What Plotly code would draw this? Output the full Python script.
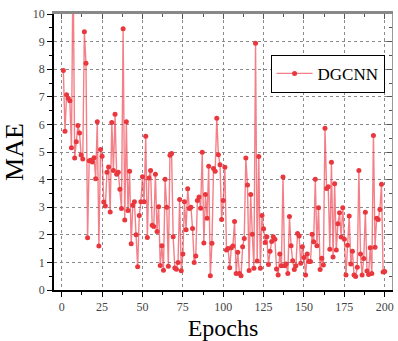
import plotly.graph_objects as go

epochs = list(range(1, 201))
mae = [
    7.95, 5.75, 7.07, 6.95, 6.86, 5.15, 12.0, 4.78, 5.37, 5.96,
    5.69, 4.89, 4.75, 9.36, 8.22, 1.89, 4.68, 4.70, 4.64, 4.79,
    4.03, 6.10, 1.59, 5.09, 4.85, 3.19, 3.04, 4.27, 4.46, 2.83,
    6.07, 4.33, 6.37, 4.19, 4.27, 3.65, 2.95, 9.47, 2.54, 6.10,
    2.88, 4.30, 1.68, 3.07, 3.20, 2.00, 0.84, 2.70, 3.20, 4.10,
    3.20, 5.57, 1.90, 4.06, 4.33, 2.35, 2.30, 4.19, 2.12, 3.02,
    0.89, 1.60, 0.72, 4.01, 3.00, 0.86, 4.88, 4.95, 1.93, 0.80,
    0.75, 1.00, 3.28, 0.70, 1.30, 3.20, 2.18, 3.67, 2.95, 3.00,
    2.23, 1.00, 1.23, 3.24, 3.37, 2.96, 4.99, 1.70, 3.46, 2.60,
    4.48, 0.52, 1.69, 4.40, 4.30, 6.22, 4.90, 4.54, 2.55, 3.24,
    4.45, 1.45, 1.50, 0.81, 1.53, 1.59, 2.48, 0.60, 1.37, 0.60,
    0.52, 1.57, 1.87, 4.78, 3.80, 0.71, 3.46, 2.02, 0.79, 8.94,
    1.05, 4.84, 0.79, 2.70, 2.22, 1.72, 1.93, 0.92, 1.40, 1.76,
    1.93, 1.84, 0.76, 0.54, 1.30, 0.88, 4.09, 0.88, 0.94, 0.60,
    2.66, 1.60, 1.06, 0.74, 0.88, 2.05, 1.96, 0.97, 1.57, 1.18,
    0.54, 1.30, 1.03, 1.03, 2.02, 1.75, 4.01, 1.60, 2.98, 0.74,
    1.15, 0.91, 5.86, 3.68, 3.74, 1.48, 4.63, 1.20, 3.85, 1.45,
    2.40, 2.80, 1.92, 2.98, 1.84, 0.54, 1.62, 2.68, 0.94, 1.40,
    0.54, 0.49, 0.82, 4.33, 1.30, 0.54, 1.14, 2.82, 0.69, 0.56,
    1.53, 0.60, 5.60, 1.55, 2.60, 2.55, 2.92, 3.83, 0.65, 0.67,
]
series_name = "DGCNN"
x_ticks = [0, 25, 50, 75, 100, 125, 150, 175, 200]
y_ticks = list(range(0, 11))

FONT = "Liberation Serif"
fig = go.Figure()
fig.add_trace(go.Scatter(
    x=epochs, y=mae, mode="lines+markers", name=series_name,
    line=dict(color="rgba(236,60,72,0.65)", width=1.4),
    marker=dict(color="rgb(233,55,62)", size=5, symbol="circle"),
    cliponaxis=True,
))

xr = [-4.8, 204.5]
yr = [0, 10]
fig.update_layout(
    width=398, height=341,
    margin=dict(l=54, r=4, t=14, b=50),
    paper_bgcolor="white", plot_bgcolor="white",
    font=dict(family=FONT, color="#333"),
    showlegend=True,
    legend=dict(
        x=0.978, y=0.852, xanchor="right", yanchor="top",
        bordercolor="black", borderwidth=1, bgcolor="white",
        font=dict(family=FONT, size=17, color="black"),
        itemwidth=36, tracegroupgap=0,
    ),
    xaxis=dict(
        range=xr, tickvals=x_ticks, ticks="outside", ticklen=5, tickwidth=1,
        tickcolor="black",
        minor=dict(dtick=12.5, tick0=0, ticks="outside", ticklen=3, tickcolor="black",
                   showgrid=False),
        showline=True, linecolor="black", linewidth=1.5,
        showgrid=True, gridcolor="#8a8a8a", griddash="dot", gridwidth=1,
        zeroline=False,
        tickfont=dict(family=FONT, size=12, color="#444"),
        title=dict(text="Epochs", font=dict(family=FONT, size=24, color="black"), standoff=6),
    ),
    yaxis=dict(
        range=yr, tickvals=y_ticks, ticks="outside", ticklen=5, tickwidth=1,
        tickcolor="black",
        minor=dict(dtick=0.5, tick0=0, ticks="outside", ticklen=3, tickcolor="black",
                   showgrid=False),
        showline=True, linecolor="black", linewidth=1.5,
        showgrid=True, gridcolor="#8a8a8a", griddash="dot", gridwidth=1,
        zeroline=False,
        tickfont=dict(family=FONT, size=12, color="#444"),
        title=dict(text="MAE", font=dict(family=FONT, size=26, color="black"), standoff=8),
    ),
    xaxis2=dict(
        overlaying="x", side="top", range=xr, tickvals=x_ticks, ticks="inside",
        ticklen=5, tickcolor="#555", showticklabels=False, showgrid=False,
        minor=dict(dtick=12.5, tick0=0, ticks="inside", ticklen=3, tickcolor="#555"),
        showline=True, linecolor="#888", linewidth=3, zeroline=False,
    ),
    yaxis2=dict(
        overlaying="y", side="right", range=yr, tickvals=y_ticks, ticks="inside",
        ticklen=5, tickcolor="#555", showticklabels=False, showgrid=False,
        minor=dict(dtick=0.5, tick0=0, ticks="inside", ticklen=3, tickcolor="#555"),
        showline=True, linecolor="#999", linewidth=1, zeroline=False,
    ),
)
fig.add_trace(go.Scatter(x=[None], y=[None], xaxis="x2", yaxis="y2",
                         showlegend=False, hoverinfo="skip"))
fig.write_html("out.html")
